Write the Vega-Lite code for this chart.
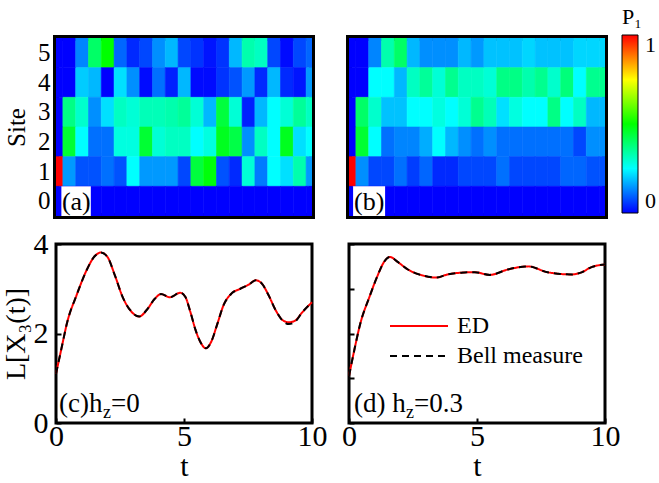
{
  "$schema": "https://vega.github.io/schema/vega-lite/v6.json",
  "background": "white",
  "padding": {"left": 0, "top": 7, "right": 0, "bottom": 0},
  "config": {
    "font": "Liberation Serif",
    "axis": {"domain": false, "grid": false, "tickColor": "black", "tickWidth": 2, "tickSize": -5, "labelColor": "black", "titleColor": "black", "labelFont": "Liberation Serif", "titleFont": "Liberation Serif", "titleFontWeight": "normal", "zindex": 1, "labelFlush": false},
    "legend": {"labelFont": "Liberation Serif", "titleFont": "Liberation Serif", "titleFontWeight": "normal", "labelColor": "black", "titleColor": "black"},
    "text": {"font": "Liberation Serif", "color": "black"}
  },
  "datasets": {
    "heatA": [
      {"t":0,"site":5,"p":0},{"t":0.5,"site":5,"p":0},{"t":1,"site":5,"p":0.13},{"t":1.5,"site":5,"p":0.4},{"t":2,"site":5,"p":0.5},{"t":2.5,"site":5,"p":0.1},{"t":3,"site":5,"p":0.04},{"t":3.5,"site":5,"p":0.07},{"t":4,"site":5,"p":0.14},{"t":4.5,"site":5,"p":0.18},{"t":5,"site":5,"p":0.07},{"t":5.5,"site":5,"p":0.05},{"t":6,"site":5,"p":0.02},{"t":6.5,"site":5,"p":0.05},{"t":7,"site":5,"p":0.18},{"t":7.5,"site":5,"p":0.33},{"t":8,"site":5,"p":0.31},{"t":8.5,"site":5,"p":0.07},{"t":9,"site":5,"p":0.01},{"t":9.5,"site":5,"p":0.07},{"t":10,"site":5,"p":0.1},
      {"t":0,"site":4,"p":0},{"t":0.5,"site":4,"p":0},{"t":1,"site":4,"p":0.2},{"t":1.5,"site":4,"p":0.18},{"t":2,"site":4,"p":0},{"t":2.5,"site":4,"p":0.22},{"t":3,"site":4,"p":0.14},{"t":3.5,"site":4,"p":0.01},{"t":4,"site":4,"p":0.11},{"t":4.5,"site":4,"p":0.03},{"t":5,"site":4,"p":0.18},{"t":5.5,"site":4,"p":0.01},{"t":6,"site":4,"p":0.01},{"t":6.5,"site":4,"p":0.05},{"t":7,"site":4,"p":0.08},{"t":7.5,"site":4,"p":0.15},{"t":8,"site":4,"p":0.04},{"t":8.5,"site":4,"p":0.18},{"t":9,"site":4,"p":0.04},{"t":9.5,"site":4,"p":0.02},{"t":10,"site":4,"p":0.15},
      {"t":0,"site":3,"p":0},{"t":0.5,"site":3,"p":0.37},{"t":1,"site":3,"p":0.3},{"t":1.5,"site":3,"p":0.14},{"t":2,"site":3,"p":0.22},{"t":2.5,"site":3,"p":0.31},{"t":3,"site":3,"p":0.29},{"t":3.5,"site":3,"p":0.32},{"t":4,"site":3,"p":0.32},{"t":4.5,"site":3,"p":0.33},{"t":5,"site":3,"p":0.35},{"t":5.5,"site":3,"p":0.29},{"t":6,"site":3,"p":0.18},{"t":6.5,"site":3,"p":0.44},{"t":7,"site":3,"p":0.29},{"t":7.5,"site":3,"p":0.03},{"t":8,"site":3,"p":0.18},{"t":8.5,"site":3,"p":0.25},{"t":9,"site":3,"p":0.29},{"t":9.5,"site":3,"p":0.35},{"t":10,"site":3,"p":0.31},
      {"t":0,"site":2,"p":0},{"t":0.5,"site":2,"p":0.45},{"t":1,"site":2,"p":0.25},{"t":1.5,"site":2,"p":0.11},{"t":2,"site":2,"p":0.11},{"t":2.5,"site":2,"p":0.28},{"t":3,"site":2,"p":0.28},{"t":3.5,"site":2,"p":0.45},{"t":4,"site":2,"p":0.29},{"t":4.5,"site":2,"p":0.31},{"t":5,"site":2,"p":0.31},{"t":5.5,"site":2,"p":0.25},{"t":6,"site":2,"p":0.28},{"t":6.5,"site":2,"p":0.47},{"t":7,"site":2,"p":0.43},{"t":7.5,"site":2,"p":0.14},{"t":8,"site":2,"p":0.31},{"t":8.5,"site":2,"p":0.25},{"t":9,"site":2,"p":0.47},{"t":9.5,"site":2,"p":0.22},{"t":10,"site":2,"p":0.25},
      {"t":0,"site":1,"p":1},{"t":0.5,"site":1,"p":0.15},{"t":1,"site":1,"p":0.08},{"t":1.5,"site":1,"p":0.08},{"t":2,"site":1,"p":0.11},{"t":2.5,"site":1,"p":0.08},{"t":3,"site":1,"p":0.25},{"t":3.5,"site":1,"p":0.15},{"t":4,"site":1,"p":0.15},{"t":4.5,"site":1,"p":0.15},{"t":5,"site":1,"p":0.07},{"t":5.5,"site":1,"p":0.44},{"t":6,"site":1,"p":0.49},{"t":6.5,"site":1,"p":0.08},{"t":7,"site":1,"p":0.04},{"t":7.5,"site":1,"p":0.29},{"t":8,"site":1,"p":0.12},{"t":8.5,"site":1,"p":0.25},{"t":9,"site":1,"p":0.22},{"t":9.5,"site":1,"p":0.33},{"t":10,"site":1,"p":0.15},
      {"t":0,"site":0,"p":0},{"t":0.5,"site":0,"p":0},{"t":1,"site":0,"p":0},{"t":1.5,"site":0,"p":0},{"t":2,"site":0,"p":0},{"t":2.5,"site":0,"p":0},{"t":3,"site":0,"p":0},{"t":3.5,"site":0,"p":0},{"t":4,"site":0,"p":0},{"t":4.5,"site":0,"p":0},{"t":5,"site":0,"p":0},{"t":5.5,"site":0,"p":0},{"t":6,"site":0,"p":0},{"t":6.5,"site":0,"p":0},{"t":7,"site":0,"p":0},{"t":7.5,"site":0,"p":0},{"t":8,"site":0,"p":0},{"t":8.5,"site":0,"p":0},{"t":9,"site":0,"p":0},{"t":9.5,"site":0,"p":0},{"t":10,"site":0,"p":0}
    ],
    "heatB": [
      {"t":0,"site":5,"p":0},{"t":0.5,"site":5,"p":0},{"t":1,"site":5,"p":0.13},{"t":1.5,"site":5,"p":0.33},{"t":2,"site":5,"p":0.4},{"t":2.5,"site":5,"p":0.18},{"t":3,"site":5,"p":0.14},{"t":3.5,"site":5,"p":0.14},{"t":4,"site":5,"p":0.14},{"t":4.5,"site":5,"p":0.18},{"t":5,"site":5,"p":0.15},{"t":5.5,"site":5,"p":0.19},{"t":6,"site":5,"p":0.19},{"t":6.5,"site":5,"p":0.19},{"t":7,"site":5,"p":0.21},{"t":7.5,"site":5,"p":0.19},{"t":8,"site":5,"p":0.19},{"t":8.5,"site":5,"p":0.19},{"t":9,"site":5,"p":0.21},{"t":9.5,"site":5,"p":0.21},{"t":10,"site":5,"p":0.21},
      {"t":0,"site":4,"p":0},{"t":0.5,"site":4,"p":0},{"t":1,"site":4,"p":0.25},{"t":1.5,"site":4,"p":0.25},{"t":2,"site":4,"p":0.18},{"t":2.5,"site":4,"p":0.31},{"t":3,"site":4,"p":0.35},{"t":3.5,"site":4,"p":0.29},{"t":4,"site":4,"p":0.36},{"t":4.5,"site":4,"p":0.31},{"t":5,"site":4,"p":0.31},{"t":5.5,"site":4,"p":0.29},{"t":6,"site":4,"p":0.37},{"t":6.5,"site":4,"p":0.37},{"t":7,"site":4,"p":0.33},{"t":7.5,"site":4,"p":0.36},{"t":8,"site":4,"p":0.3},{"t":8.5,"site":4,"p":0.38},{"t":9,"site":4,"p":0.25},{"t":9.5,"site":4,"p":0.36},{"t":10,"site":4,"p":0.36},
      {"t":0,"site":3,"p":0},{"t":0.5,"site":3,"p":0.4},{"t":1,"site":3,"p":0.3},{"t":1.5,"site":3,"p":0.19},{"t":2,"site":3,"p":0.19},{"t":2.5,"site":3,"p":0.25},{"t":3,"site":3,"p":0.25},{"t":3.5,"site":3,"p":0.28},{"t":4,"site":3,"p":0.25},{"t":4.5,"site":3,"p":0.29},{"t":5,"site":3,"p":0.36},{"t":5.5,"site":3,"p":0.32},{"t":6,"site":3,"p":0.22},{"t":6.5,"site":3,"p":0.28},{"t":7,"site":3,"p":0.25},{"t":7.5,"site":3,"p":0.25},{"t":8,"site":3,"p":0.37},{"t":8.5,"site":3,"p":0.25},{"t":9,"site":3,"p":0.31},{"t":9.5,"site":3,"p":0.18},{"t":10,"site":3,"p":0.18},
      {"t":0,"site":2,"p":0},{"t":0.5,"site":2,"p":0.45},{"t":1,"site":2,"p":0.25},{"t":1.5,"site":2,"p":0.11},{"t":2,"site":2,"p":0.13},{"t":2.5,"site":2,"p":0.13},{"t":3,"site":2,"p":0.17},{"t":3.5,"site":2,"p":0.25},{"t":4,"site":2,"p":0.18},{"t":4.5,"site":2,"p":0.14},{"t":5,"site":2,"p":0.11},{"t":5.5,"site":2,"p":0.14},{"t":6,"site":2,"p":0.11},{"t":6.5,"site":2,"p":0.11},{"t":7,"site":2,"p":0.11},{"t":7.5,"site":2,"p":0.11},{"t":8,"site":2,"p":0.11},{"t":8.5,"site":2,"p":0.11},{"t":9,"site":2,"p":0.07},{"t":9.5,"site":2,"p":0.14},{"t":10,"site":2,"p":0.14},
      {"t":0,"site":1,"p":1},{"t":0.5,"site":1,"p":0.14},{"t":1,"site":1,"p":0.07},{"t":1.5,"site":1,"p":0.07},{"t":2,"site":1,"p":0.11},{"t":2.5,"site":1,"p":0.06},{"t":3,"site":1,"p":0.1},{"t":3.5,"site":1,"p":0.04},{"t":4,"site":1,"p":0.04},{"t":4.5,"site":1,"p":0.07},{"t":5,"site":1,"p":0.07},{"t":5.5,"site":1,"p":0.07},{"t":6,"site":1,"p":0.11},{"t":6.5,"site":1,"p":0.07},{"t":7,"site":1,"p":0.07},{"t":7.5,"site":1,"p":0.07},{"t":8,"site":1,"p":0.07},{"t":8.5,"site":1,"p":0.1},{"t":9,"site":1,"p":0.1},{"t":9.5,"site":1,"p":0.08},{"t":10,"site":1,"p":0.08},
      {"t":0,"site":0,"p":0},{"t":0.5,"site":0,"p":0},{"t":1,"site":0,"p":0},{"t":1.5,"site":0,"p":0},{"t":2,"site":0,"p":0},{"t":2.5,"site":0,"p":0},{"t":3,"site":0,"p":0},{"t":3.5,"site":0,"p":0},{"t":4,"site":0,"p":0},{"t":4.5,"site":0,"p":0},{"t":5,"site":0,"p":0},{"t":5.5,"site":0,"p":0},{"t":6,"site":0,"p":0},{"t":6.5,"site":0,"p":0},{"t":7,"site":0,"p":0},{"t":7.5,"site":0,"p":0},{"t":8,"site":0,"p":0},{"t":8.5,"site":0,"p":0},{"t":9,"site":0,"p":0},{"t":9.5,"site":0,"p":0},{"t":10,"site":0,"p":0}
    ],
    "lineC": [
      {"t":0,"L":1.1,"series":"ED"},{"t":0.2,"L":1.63,"series":"ED"},{"t":0.45,"L":2.28,"series":"ED"},{"t":0.8,"L":2.85,"series":"ED"},{"t":1.2,"L":3.42,"series":"ED"},{"t":1.5,"L":3.72,"series":"ED"},{"t":1.75,"L":3.81,"series":"ED"},{"t":2,"L":3.72,"series":"ED"},{"t":2.3,"L":3.3,"series":"ED"},{"t":2.6,"L":2.82,"series":"ED"},{"t":2.9,"L":2.52,"series":"ED"},{"t":3.25,"L":2.38,"series":"ED"},{"t":3.55,"L":2.53,"series":"ED"},{"t":3.85,"L":2.77,"series":"ED"},{"t":4.1,"L":2.88,"series":"ED"},{"t":4.45,"L":2.81,"series":"ED"},{"t":4.85,"L":2.91,"series":"ED"},{"t":5.05,"L":2.82,"series":"ED"},{"t":5.25,"L":2.48,"series":"ED"},{"t":5.45,"L":2.08,"series":"ED"},{"t":5.65,"L":1.8,"series":"ED"},{"t":5.85,"L":1.67,"series":"ED"},{"t":6.05,"L":1.8,"series":"ED"},{"t":6.3,"L":2.21,"series":"ED"},{"t":6.55,"L":2.64,"series":"ED"},{"t":6.85,"L":2.89,"series":"ED"},{"t":7.2,"L":3.0,"series":"ED"},{"t":7.55,"L":3.1,"series":"ED"},{"t":7.8,"L":3.19,"series":"ED"},{"t":8.05,"L":3.11,"series":"ED"},{"t":8.3,"L":2.86,"series":"ED"},{"t":8.6,"L":2.5,"series":"ED"},{"t":8.85,"L":2.3,"series":"ED"},{"t":9.1,"L":2.25,"series":"ED"},{"t":9.35,"L":2.29,"series":"ED"},{"t":9.6,"L":2.46,"series":"ED"},{"t":10,"L":2.7,"series":"ED"},
      {"t":0,"L":1.1,"series":"Bell measure"},{"t":0.2,"L":1.63,"series":"Bell measure"},{"t":0.45,"L":2.28,"series":"Bell measure"},{"t":0.8,"L":2.85,"series":"Bell measure"},{"t":1.2,"L":3.42,"series":"Bell measure"},{"t":1.5,"L":3.72,"series":"Bell measure"},{"t":1.75,"L":3.81,"series":"Bell measure"},{"t":2,"L":3.72,"series":"Bell measure"},{"t":2.3,"L":3.3,"series":"Bell measure"},{"t":2.6,"L":2.82,"series":"Bell measure"},{"t":2.9,"L":2.52,"series":"Bell measure"},{"t":3.25,"L":2.38,"series":"Bell measure"},{"t":3.55,"L":2.53,"series":"Bell measure"},{"t":3.85,"L":2.77,"series":"Bell measure"},{"t":4.1,"L":2.88,"series":"Bell measure"},{"t":4.45,"L":2.81,"series":"Bell measure"},{"t":4.85,"L":2.91,"series":"Bell measure"},{"t":5.05,"L":2.82,"series":"Bell measure"},{"t":5.25,"L":2.48,"series":"Bell measure"},{"t":5.45,"L":2.08,"series":"Bell measure"},{"t":5.65,"L":1.8,"series":"Bell measure"},{"t":5.85,"L":1.67,"series":"Bell measure"},{"t":6.05,"L":1.8,"series":"Bell measure"},{"t":6.3,"L":2.21,"series":"Bell measure"},{"t":6.55,"L":2.64,"series":"Bell measure"},{"t":6.85,"L":2.89,"series":"Bell measure"},{"t":7.2,"L":3.0,"series":"Bell measure"},{"t":7.55,"L":3.1,"series":"Bell measure"},{"t":7.8,"L":3.19,"series":"Bell measure"},{"t":8.05,"L":3.11,"series":"Bell measure"},{"t":8.3,"L":2.86,"series":"Bell measure"},{"t":8.6,"L":2.5,"series":"Bell measure"},{"t":8.85,"L":2.29,"series":"Bell measure"},{"t":9.1,"L":2.21,"series":"Bell measure"},{"t":9.35,"L":2.27,"series":"Bell measure"},{"t":9.6,"L":2.46,"series":"Bell measure"},{"t":10,"L":2.7,"series":"Bell measure"}
    ],
    "lineD": [
      {"t":0,"L":1.05,"series":"ED"},{"t":0.2,"L":1.61,"series":"ED"},{"t":0.45,"L":2.24,"series":"ED"},{"t":0.8,"L":2.82,"series":"ED"},{"t":1.1,"L":3.27,"series":"ED"},{"t":1.37,"L":3.6,"series":"ED"},{"t":1.6,"L":3.71,"series":"ED"},{"t":1.9,"L":3.6,"series":"ED"},{"t":2.3,"L":3.43,"series":"ED"},{"t":2.8,"L":3.31,"series":"ED"},{"t":3.4,"L":3.25,"series":"ED"},{"t":3.85,"L":3.32,"series":"ED"},{"t":4.4,"L":3.36,"series":"ED"},{"t":4.9,"L":3.37,"series":"ED"},{"t":5.5,"L":3.31,"series":"ED"},{"t":6.2,"L":3.43,"series":"ED"},{"t":7,"L":3.5,"series":"ED"},{"t":7.75,"L":3.37,"series":"ED"},{"t":8.7,"L":3.32,"series":"ED"},{"t":9.05,"L":3.36,"series":"ED"},{"t":9.5,"L":3.49,"series":"ED"},{"t":10,"L":3.54,"series":"ED"},
      {"t":0,"L":1.05,"series":"Bell measure"},{"t":0.2,"L":1.61,"series":"Bell measure"},{"t":0.45,"L":2.24,"series":"Bell measure"},{"t":0.8,"L":2.82,"series":"Bell measure"},{"t":1.1,"L":3.27,"series":"Bell measure"},{"t":1.37,"L":3.6,"series":"Bell measure"},{"t":1.6,"L":3.71,"series":"Bell measure"},{"t":1.9,"L":3.6,"series":"Bell measure"},{"t":2.3,"L":3.43,"series":"Bell measure"},{"t":2.8,"L":3.31,"series":"Bell measure"},{"t":3.4,"L":3.25,"series":"Bell measure"},{"t":3.85,"L":3.32,"series":"Bell measure"},{"t":4.4,"L":3.36,"series":"Bell measure"},{"t":4.9,"L":3.37,"series":"Bell measure"},{"t":5.5,"L":3.31,"series":"Bell measure"},{"t":6.2,"L":3.43,"series":"Bell measure"},{"t":7,"L":3.5,"series":"Bell measure"},{"t":7.75,"L":3.37,"series":"Bell measure"},{"t":8.7,"L":3.32,"series":"Bell measure"},{"t":9.05,"L":3.36,"series":"Bell measure"},{"t":9.5,"L":3.49,"series":"Bell measure"},{"t":10,"L":3.54,"series":"Bell measure"}
    ]
  },
  "columns": 2,
  "spacing": {"row": 28, "column": 37},
  "bounds": "flush",
  "resolve": {
    "scale": {"stroke": "independent", "strokeDash": "independent"},
    "legend": {"stroke": "independent", "strokeDash": "independent"}
  },
  "concat": [
    {
      "width": 256, "height": 178,
      "view": {"stroke": "black", "strokeWidth": 6},
      "layer": [
        {
          "data": {"name": "heatA"},
          "mark": {"type": "rect", "clip": true, "strokeWidth": 0.6},
          "encoding": {
            "x": {"field": "t", "type": "quantitative", "bin": {"step": 0.5, "anchor": -0.25, "extent": [-0.25, 10.25], "nice": false}, "scale": {"domain": [0, 10], "nice": false, "zero": false}, "axis": {"values": [5], "labels": false, "title": null, "tickSize": -5}},
            "y": {"field": "site", "type": "ordinal", "scale": {"domain": [5, 4, 3, 2, 1, 0], "paddingInner": 0, "paddingOuter": 0}, "axis": {"title": "Site", "titleFontSize": 25, "labelFontSize": 25, "labelPadding": 11, "titlePadding": 8, "tickSize": -5, "labelAngle": 0}},
            "fill": {"field": "p", "type": "quantitative", "scale": {"domain": [0, 1], "range": ["#0000ff", "#00ffff", "#00ff00", "#ffff00", "#ff0000"], "interpolate": "rgb"},
              "legend": {"orient": "none", "legendX": 566, "legendY": -31, "direction": "vertical", "title": "P₁", "titleFontSize": 22, "titlePadding": 6, "labelFontSize": 22, "labelOffset": 7, "format": ".0f", "gradientLength": 178, "gradientThickness": 16, "values": [0, 1], "gradientStrokeColor": "black", "gradientStrokeWidth": 1}},
            "stroke": {"field": "p", "type": "quantitative", "scale": {"domain": [0, 1], "range": ["#0000ff", "#00ffff", "#00ff00", "#ffff00", "#ff0000"], "interpolate": "rgb"}, "legend": null}
          }
        },
        {
          "data": {"values": [{}]},
          "mark": {"type": "rect", "fill": "white"},
          "encoding": {"x": {"datum": 0.21}, "x2": {"datum": 1.36}, "y": {"datum": 0, "type": "ordinal"}}
        },
        {
          "data": {"values": [{}]},
          "mark": {"type": "text", "text": "(a)", "align": "left", "baseline": "middle", "fontSize": 26, "dy": 1},
          "encoding": {"x": {"datum": 0.23}, "y": {"datum": 0, "type": "ordinal"}}
        }
      ]
    },
    {
      "width": 256, "height": 178,
      "view": {"stroke": "black", "strokeWidth": 6},
      "layer": [
        {
          "data": {"name": "heatB"},
          "mark": {"type": "rect", "clip": true, "strokeWidth": 0.6},
          "encoding": {
            "x": {"field": "t", "type": "quantitative", "bin": {"step": 0.5, "anchor": -0.25, "extent": [-0.25, 10.25], "nice": false}, "scale": {"domain": [0, 10], "nice": false, "zero": false}, "axis": {"values": [5], "labels": false, "title": null, "tickSize": -5}},
            "y": {"field": "site", "type": "ordinal", "scale": {"domain": [5, 4, 3, 2, 1, 0], "paddingInner": 0, "paddingOuter": 0}, "axis": {"title": null, "labels": false, "tickSize": -5}},
            "fill": {"field": "p", "type": "quantitative", "scale": {"domain": [0, 1], "range": ["#0000ff", "#00ffff", "#00ff00", "#ffff00", "#ff0000"], "interpolate": "rgb"},
              "legend": {"orient": "none", "legendX": 566, "legendY": -31, "direction": "vertical", "title": "P₁", "titleFontSize": 22, "titlePadding": 6, "labelFontSize": 22, "labelOffset": 7, "format": ".0f", "gradientLength": 178, "gradientThickness": 16, "values": [0, 1], "gradientStrokeColor": "black", "gradientStrokeWidth": 1}},
            "stroke": {"field": "p", "type": "quantitative", "scale": {"domain": [0, 1], "range": ["#0000ff", "#00ffff", "#00ff00", "#ffff00", "#ff0000"], "interpolate": "rgb"}, "legend": null}
          }
        },
        {
          "data": {"values": [{}]},
          "mark": {"type": "rect", "fill": "white"},
          "encoding": {"x": {"datum": 0.16}, "x2": {"datum": 1.41}, "y": {"datum": 0, "type": "ordinal"}}
        },
        {
          "data": {"values": [{}]},
          "mark": {"type": "text", "text": "(b)", "align": "left", "baseline": "middle", "fontSize": 26, "dy": 1},
          "encoding": {"x": {"datum": 0.2}, "y": {"datum": 0, "type": "ordinal"}}
        }
      ]
    },
    {
      "width": 256, "height": 179,
      "view": {"stroke": "black", "strokeWidth": 3},
      "layer": [
        {
          "data": {"name": "lineC"},
          "mark": {"type": "line", "interpolate": "monotone", "strokeWidth": 2},
          "encoding": {
            "x": {"field": "t", "type": "quantitative", "scale": {"domain": [0, 10], "nice": false}, "axis": {"values": [0, 5, 10], "title": "t", "titleFontSize": 30, "labelFontSize": 30, "labelPadding": 3, "titlePadding": 0, "tickSize": -5}},
            "y": {"field": "L", "type": "quantitative", "scale": {"domain": [0, 4], "nice": false}, "axis": {"values": [0, 2, 4], "title": "L[X₃(t)]", "titleFontSize": 28, "labelFontSize": 30, "labelPadding": 13, "titlePadding": 3, "tickSize": -5}},
            "stroke": {"field": "series", "type": "nominal", "scale": {"domain": ["ED", "Bell measure"], "range": ["#ff0000", "#000000"]}, "legend": null},
            "strokeDash": {"field": "series", "type": "nominal", "scale": {"domain": ["ED", "Bell measure"], "range": [[1, 0], [7, 5]]}, "legend": null}
          }
        },
        {
          "data": {"values": [{}]},
          "mark": {"type": "text", "text": "(c)h", "align": "left", "baseline": "alphabetic", "fontSize": 27},
          "encoding": {"x": {"datum": 0.12}, "y": {"datum": 0.24}}
        },
        {
          "data": {"values": [{}]},
          "mark": {"type": "text", "text": "z", "align": "left", "baseline": "alphabetic", "fontSize": 18, "dx": 44, "dy": 6},
          "encoding": {"x": {"datum": 0.12}, "y": {"datum": 0.24}}
        },
        {
          "data": {"values": [{}]},
          "mark": {"type": "text", "text": "=0", "align": "left", "baseline": "alphabetic", "fontSize": 27, "dx": 52},
          "encoding": {"x": {"datum": 0.12}, "y": {"datum": 0.24}}
        }
      ]
    },
    {
      "width": 256, "height": 179,
      "view": {"stroke": "black", "strokeWidth": 3},
      "layer": [
        {
          "data": {"name": "lineD"},
          "mark": {"type": "line", "interpolate": "monotone", "strokeWidth": 2},
          "encoding": {
            "x": {"field": "t", "type": "quantitative", "scale": {"domain": [0, 10], "nice": false}, "axis": {"values": [0, 5, 10], "title": "t", "titleFontSize": 30, "labelFontSize": 30, "labelPadding": 3, "titlePadding": 0, "tickSize": -5}},
            "y": {"field": "L", "type": "quantitative", "scale": {"domain": [0, 4], "nice": false}, "axis": {"values": [0, 1, 2, 3, 4], "title": null, "labels": false, "tickSize": -5}},
            "stroke": {"field": "series", "type": "nominal", "scale": {"domain": ["ED", "Bell measure"], "range": ["#ff0000", "#000000"]},
              "legend": {"orient": "none", "legendX": 40, "legendY": 67, "title": null, "symbolType": "stroke", "symbolSize": 3364, "symbolStrokeWidth": 2, "labelFontSize": 24, "labelOffset": 8, "clipHeight": 30, "rowPadding": 0}},
            "strokeDash": {"field": "series", "type": "nominal", "scale": {"domain": ["ED", "Bell measure"], "range": [[1, 0], [7, 5]]},
              "legend": {"orient": "none", "legendX": 40, "legendY": 67, "title": null, "symbolType": "stroke", "symbolSize": 3364, "symbolStrokeWidth": 2, "labelFontSize": 24, "labelOffset": 8, "clipHeight": 30, "rowPadding": 0}}
          }
        },
        {
          "data": {"values": [{}]},
          "mark": {"type": "text", "text": "(d) h", "align": "left", "baseline": "alphabetic", "fontSize": 27},
          "encoding": {"x": {"datum": 0.2}, "y": {"datum": 0.24}}
        },
        {
          "data": {"values": [{}]},
          "mark": {"type": "text", "text": "z", "align": "left", "baseline": "alphabetic", "fontSize": 18, "dx": 52, "dy": 6},
          "encoding": {"x": {"datum": 0.2}, "y": {"datum": 0.24}}
        },
        {
          "data": {"values": [{}]},
          "mark": {"type": "text", "text": "=0.3", "align": "left", "baseline": "alphabetic", "fontSize": 27, "dx": 60},
          "encoding": {"x": {"datum": 0.2}, "y": {"datum": 0.24}}
        }
      ]
    }
  ]
}
